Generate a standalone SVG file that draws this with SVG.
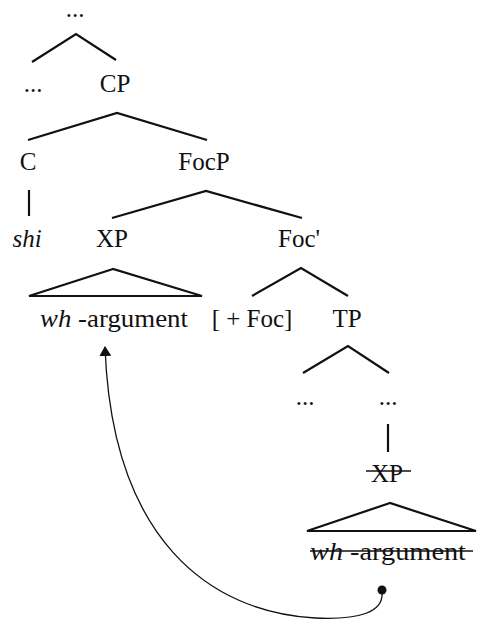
<svg xmlns="http://www.w3.org/2000/svg" width="477" height="621" viewBox="0 0 477 621">
<style>
text{font-family:"Liberation Serif","Times New Roman",serif;font-size:25px;fill:#111;text-anchor:middle}
.i{font-style:italic}
.e{fill:none;stroke:#111;stroke-width:2.2}
.s{fill:none;stroke:#111;stroke-width:1.3}
.k{stroke:#111;stroke-width:1.5}
</style>
<defs>
<marker id="ah" markerWidth="10" markerHeight="12" refX="9" refY="6" orient="auto" markerUnits="userSpaceOnUse" viewBox="0 0 10 12">
<path d="M0,0 L10,6 L0,12 Z" fill="#111"/>
</marker>
</defs>
<rect width="477" height="621" fill="#fff"/>
<g id="edges">
<polyline class="e" points="32,62 76,34 116,60"/>
<polyline class="e" points="28,140 117,113 207,140"/>
<line class="e" x1="29" y1="190" x2="29" y2="216"/>
<polyline class="e" points="112,218 206,191 302,218"/>
<polygon class="e" points="113,269 29,296 202,296"/>
<polyline class="e" points="252,296 301,268 348,296"/>
<polyline class="e" points="303,373 348,346 389,373"/>
<line class="e" x1="388" y1="424" x2="388" y2="452"/>
<polygon class="e" points="390,503 307,531 476,531"/>
<path class="s" d="M382,592 C384,612 360,620 315,618 C210,612 112,540 105,347" marker-end="url(#ah)"/>
</g>
<g id="n-top"><text x="75" y="17">...</text></g>
<g id="n-dots1"><text x="33" y="92">...</text></g>
<g id="n-CP"><text x="115" y="92">CP</text></g>
<g id="n-C"><text x="28" y="170">C</text></g>
<g id="n-FocP"><text x="204" y="170">FocP</text></g>
<g id="n-shi"><text class="i" x="27" y="247">shi</text></g>
<g id="n-XP"><text x="112" y="247">XP</text></g>
<g id="n-Focbar"><text x="299" y="247">Foc'</text></g>
<g id="n-wh"><text x="114" y="327" textLength="148" lengthAdjust="spacingAndGlyphs"><tspan class="i">wh</tspan> -argument</text></g>
<g id="n-foc"><text x="252" y="327">[ + Foc]</text></g>
<g id="n-TP"><text x="347" y="327">TP</text></g>
<g id="n-dots2"><text x="305" y="405">...</text></g>
<g id="n-dots3"><text x="388" y="405">...</text></g>
<g id="n-XP2"><text x="387" y="482">XP</text><line class="k" x1="366" y1="471" x2="411" y2="471"/></g>
<g id="n-wh2"><text x="388" y="560" textLength="156" lengthAdjust="spacingAndGlyphs"><tspan class="i">wh</tspan> -argument</text><line class="k" x1="310" y1="551" x2="473" y2="551"/><circle cx="382" cy="590" r="4.5" fill="#111"/></g>
</svg>
